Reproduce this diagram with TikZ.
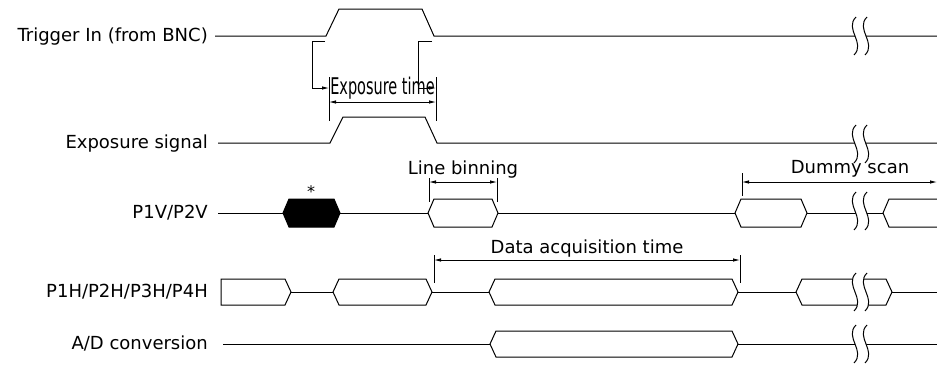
\documentclass[tikz,border=0pt]{standalone}
\usepackage{fontspec}
\setmainfont{DejaVu Sans}
\usetikzlibrary{arrows.meta,positioning}

\begin{document}
\begin{tikzpicture}[x=1pt,y=-1pt,
sig/.style={draw,line width=1pt,line join=miter},
busw/.style={draw,line width=1pt,fill=white},
busb/.style={draw,line width=1pt,fill=black},
lbl/.style={anchor=base east,font=\fontsize{18}{21}\selectfont,inner sep=0pt},
note/.style={anchor=base,font=\fontsize{18}{21}\selectfont,inner sep=0pt},
ext/.style={draw,line width=0.8pt},
dimline/.style={draw,line width=0.8pt,{Latex[length=7pt,width=3.5pt]}-{Latex[length=7pt,width=3.5pt]}},
elbow/.style={draw,line width=0.8pt,-{Latex[length=7pt,width=3.5pt]}},
brk/.style={draw,line width=1pt}]

\useasboundingbox (0,0) rectangle (937,365);

% row labels
\node[lbl] (trig) at (208,41) {Trigger In (from BNC)};
\node[lbl] (expo) at (208,148) {Exposure signal};
\node[lbl] (pv) at (208,218) {P1V/P2V};
\node[lbl] (ph) at (208,297) {P1H/P2H/P3H/P4H};
\node[lbl] (ad) at (208,349) {A/D conversion};

% trigger and exposure
\path[sig] (215,36) -- (326,36) -- (339,9) -- (422,9) -- (434,36) -- (937,36);
\path[sig] (218,143) -- (330,143) -- (343,117) -- (425,117) -- (437,143) -- (937,143);

% P1V/P2V
\path[sig] (218,213) -- (883,213);
\path[busb] (283,213) -- (289,199) -- (334,199) -- (340,213) -- (334,227) -- (289,227) -- cycle;
\foreach \a/\b in {428/498,735/807}
  \path[busw] (\a,213) -- (\a+6,199) -- (\b-6,199) -- (\b,213) -- (\b-6,227) -- (\a+6,227) -- cycle;
\path[busw] (937,199) -- (889,199) -- (883,213) -- (889,227) -- (937,227);
\node[font=\fontsize{16}{18}\selectfont,anchor=base,inner sep=0pt] (star) at (311,197) {*};

% P1H/P2H/P3H/P4H
\path[sig] (291,292) -- (937,292);
\path[busw] (221,279) -- (285,279) -- (291,292) -- (285,305) -- (221,305) -- cycle;
\foreach \a/\b in {333/432,489/738,796/892}
  \path[busw] (\a,292) -- (\a+6,279) -- (\b-6,279) -- (\b,292) -- (\b-6,305) -- (\a+6,305) -- cycle;

% A/D conversion
\path[sig] (223,344) -- (937,344);
\path[busw] (490,344) -- (496,331) -- (732,331) -- (738,344) -- (732,357) -- (496,357) -- cycle;

% breaks
\foreach \c in {36,144,211,292,344}{
  \fill[white] (856,\c-19) .. controls (844,\c-7) and (866,\c+7) .. (854,\c+19)
    -- (865,\c+19) .. controls (877,\c+7) and (855,\c-7) .. (867,\c-19) -- cycle;
  \path[brk] (856,\c-19) .. controls (844,\c-7) and (866,\c+7) .. (854,\c+19);
  \path[brk] (867,\c-19) .. controls (855,\c-7) and (877,\c+7) .. (865,\c+19);
}

% exposure time
\coordinate (et1) at (329,102);
\coordinate (et2) at (436,102);
\path[ext] (329,77) -- (329,121);
\path[ext] (436,77) -- (436,121);
\path[dimline] (et1) -- (et2);
\path[elbow] (325,41) -- (312,41) |- (329,88);
\path[elbow] (432,41) -- (418,41) |- (436,88);
\node[anchor=base,inner sep=0pt] (exptime) at (382.5,94) {\scalebox{0.63}[1]{\fontsize{23}{26}\selectfont Exposure time}};

% line binning
\coordinate (lb1) at (429,182);
\coordinate (lb2) at (497,182);
\path[ext] (429,178) -- (429,202);
\path[ext] (497,178) -- (497,202);
\path[dimline] (lb1) -- (lb2);
\node[note] (linebin) at (463,174) {Line binning};

% dummy scan
\coordinate (ds1) at (742,182);
\coordinate (ds2) at (937,182);
\path[ext] (742,173) -- (742,196);
\path[dimline] (ds1) -- (ds2);
\node[note] (dummy) at (850,173) {Dummy scan};

% data acquisition time
\coordinate (da1) at (434,260);
\coordinate (da2) at (740,260);
\path[ext] (434,255) -- (434,283);
\path[ext] (740,255) -- (740,283);
\path[dimline] (da1) -- (da2);
\node[note] (dataacq) at (587,253) {Data acquisition time};
\end{tikzpicture}
\end{document}
